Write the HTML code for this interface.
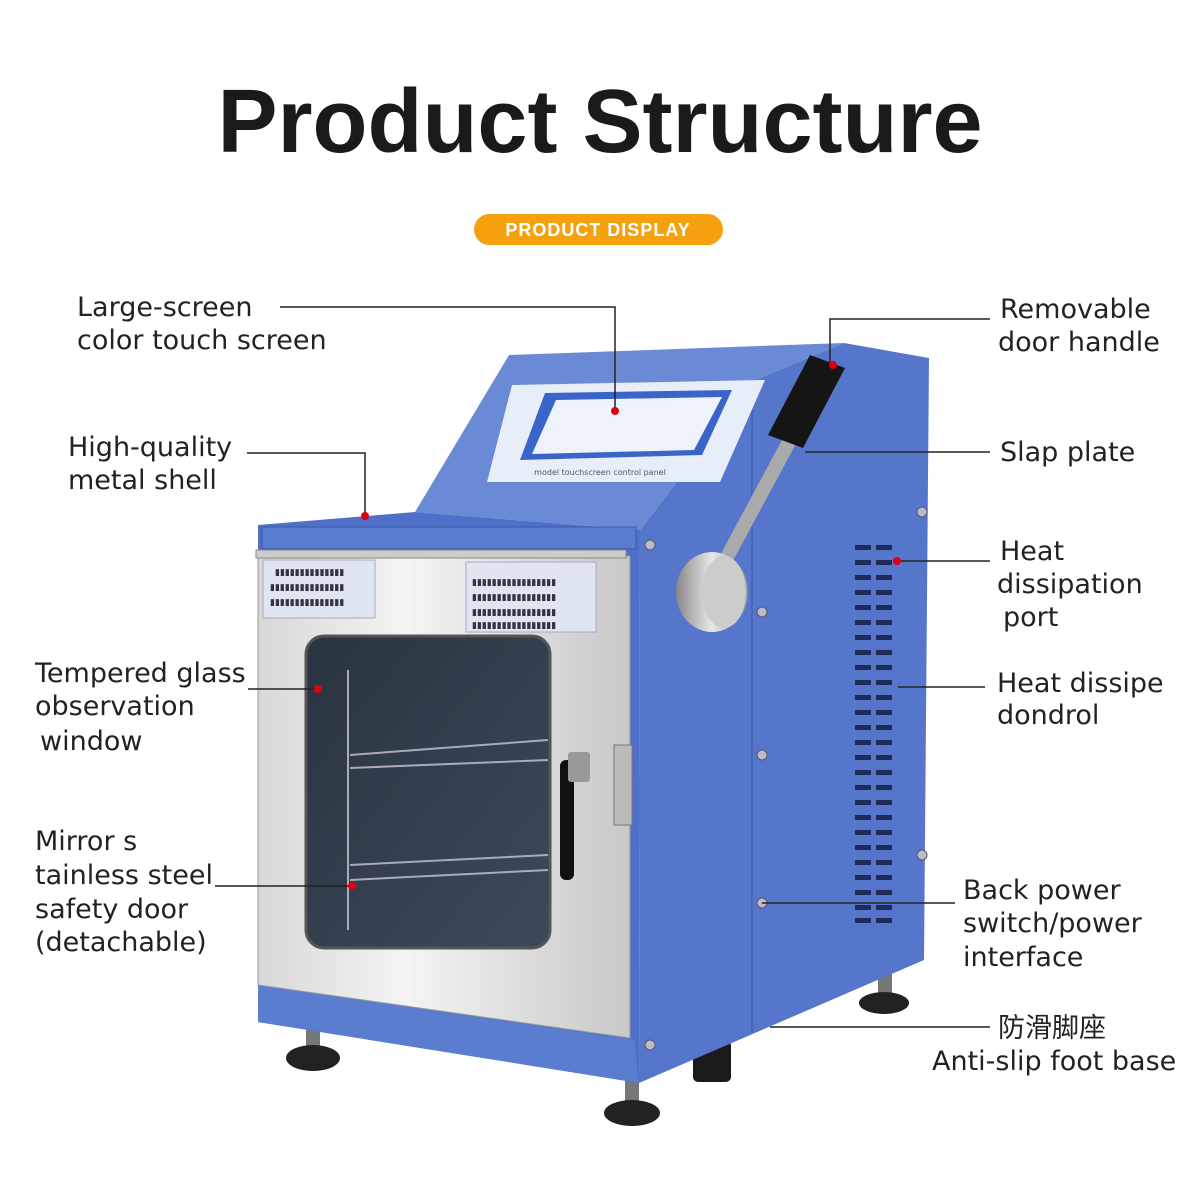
<!DOCTYPE html>
<html><head><meta charset="utf-8"><style>
body{margin:0;width:1200px;height:1200px;background:#fff;overflow:hidden;font-family:"DejaVu Sans","Noto Sans CJK SC",sans-serif;}
</style></head><body>
<svg width="1200" height="1200" viewBox="0 0 1200 1200" xmlns="http://www.w3.org/2000/svg">
<defs>
<linearGradient id="steel" x1="0" x2="1"><stop offset="0" stop-color="#d8d8d8"/><stop offset=".4" stop-color="#f4f4f4"/><stop offset="1" stop-color="#c8c8c8"/></linearGradient>
<linearGradient id="glass" x1="0" y1="0" x2="1" y2="1"><stop offset="0" stop-color="#2a3440"/><stop offset="1" stop-color="#3c4a58"/></linearGradient>
<linearGradient id="knob" x1="0" x2="1"><stop offset="0" stop-color="#888"/><stop offset=".5" stop-color="#e8e8e8"/><stop offset="1" stop-color="#999"/></linearGradient>
</defs>
<text x="600" y="152" text-anchor="middle" font-size="90" font-weight="bold" fill="#1a1a1a" font-family="Liberation Sans">Product Structure</text>
<rect x="474" y="214" width="249" height="31" rx="15.5" fill="#f5a00f"/>
<text x="598" y="236" text-anchor="middle" font-size="18" font-weight="bold" fill="#fff" letter-spacing="1" font-family="Liberation Sans">PRODUCT DISPLAY</text>

<!-- feet -->
<rect x="306" y="1015" width="14" height="40" fill="#777"/>
<ellipse cx="313" cy="1058" rx="27" ry="13" fill="#222"/>
<rect x="625" y="1075" width="14" height="35" fill="#777"/>
<ellipse cx="632" cy="1113" rx="28" ry="13" fill="#222"/>
<rect x="878" y="955" width="14" height="40" fill="#777"/>
<ellipse cx="884" cy="1003" rx="25" ry="11" fill="#222"/>
<rect x="693" y="1040" width="38" height="42" rx="5" fill="#1a1a1a"/>

<!-- side -->
<polygon points="640,530 755,380 844,343 929,358 924,960 639,1083" fill="#5676cb"/>
<line x1="752" y1="385" x2="752" y2="1032" stroke="#4563b5" stroke-width="1.5"/>
<!-- console slant -->
<polygon points="415,512 509,355 844,343 755,380 640,530" fill="#6a8ad6"/>
<!-- front box -->
<polygon points="258,525 415,512 640,530 639,1083 258,1022" fill="#4e70c8"/>
<rect x="262" y="527" width="374" height="22" fill="#5a7ccf" stroke="#3a5aa8"/>
<polygon points="258,985 634,1040 639,1083 258,1022" fill="#5a7dd0"/>
<!-- screen -->
<polygon points="512,385 765,380 720,482 487,482" fill="#e8eef8"/>
<polygon points="545,393 732,390 702,455 520,460" fill="#3a64c8"/>
<polygon points="556,400 722,397 694,450 532,454" fill="#eef2fa"/>
<text x="600" y="475" text-anchor="middle" font-size="8" fill="#557">model touchscreen control panel</text>
<!-- vents -->
<g fill="#1f2c5a">
<rect x="855" y="545" width="16" height="5"/><rect x="876" y="545" width="16" height="5"/>
<rect x="855" y="560" width="16" height="5"/><rect x="876" y="560" width="16" height="5"/>
<rect x="855" y="575" width="16" height="5"/><rect x="876" y="575" width="16" height="5"/>
<rect x="855" y="590" width="16" height="5"/><rect x="876" y="590" width="16" height="5"/>
<rect x="855" y="605" width="16" height="5"/><rect x="876" y="605" width="16" height="5"/>
<rect x="855" y="620" width="16" height="5"/><rect x="876" y="620" width="16" height="5"/>
<rect x="855" y="635" width="16" height="5"/><rect x="876" y="635" width="16" height="5"/>
<rect x="855" y="650" width="16" height="5"/><rect x="876" y="650" width="16" height="5"/>
<rect x="855" y="665" width="16" height="5"/><rect x="876" y="665" width="16" height="5"/>
<rect x="855" y="680" width="16" height="5"/><rect x="876" y="680" width="16" height="5"/>
<rect x="855" y="695" width="16" height="5"/><rect x="876" y="695" width="16" height="5"/>
<rect x="855" y="710" width="16" height="5"/><rect x="876" y="710" width="16" height="5"/>
<rect x="855" y="725" width="16" height="5"/><rect x="876" y="725" width="16" height="5"/>
<rect x="855" y="740" width="16" height="5"/><rect x="876" y="740" width="16" height="5"/>
<rect x="855" y="755" width="16" height="5"/><rect x="876" y="755" width="16" height="5"/>
<rect x="855" y="770" width="16" height="5"/><rect x="876" y="770" width="16" height="5"/>
<rect x="855" y="785" width="16" height="5"/><rect x="876" y="785" width="16" height="5"/>
<rect x="855" y="800" width="16" height="5"/><rect x="876" y="800" width="16" height="5"/>
<rect x="855" y="815" width="16" height="5"/><rect x="876" y="815" width="16" height="5"/>
<rect x="855" y="830" width="16" height="5"/><rect x="876" y="830" width="16" height="5"/>
<rect x="855" y="845" width="16" height="5"/><rect x="876" y="845" width="16" height="5"/>
<rect x="855" y="860" width="16" height="5"/><rect x="876" y="860" width="16" height="5"/>
<rect x="855" y="875" width="16" height="5"/><rect x="876" y="875" width="16" height="5"/>
<rect x="855" y="890" width="16" height="5"/><rect x="876" y="890" width="16" height="5"/>
<rect x="855" y="905" width="16" height="5"/><rect x="876" y="905" width="16" height="5"/>
<rect x="855" y="918" width="16" height="5"/><rect x="876" y="918" width="16" height="5"/>
</g>
<g fill="#bbc" stroke="#556" stroke-width="1">
<circle cx="650" cy="545" r="5"/><circle cx="762" cy="612" r="5"/><circle cx="762" cy="755" r="5"/><circle cx="762" cy="903" r="5"/><circle cx="650" cy="1045" r="5"/><circle cx="922" cy="512" r="5"/><circle cx="922" cy="855" r="5"/>
</g>
<!-- door -->
<polygon points="258,552 630,556 630,1038 258,985" fill="url(#steel)" stroke="#999"/>
<rect x="256" y="550" width="370" height="8" fill="#ccc" stroke="#888"/>
<rect x="614" y="745" width="18" height="80" fill="#bbb" stroke="#777"/>
<rect x="263" y="560" width="112" height="58" fill="#dfe6f2" stroke="#aab"/>
<rect x="466" y="562" width="130" height="70" fill="#dfe6f2" stroke="#aab"/>
<g fill="#334" font-size="9"><text x="275" y="575">▮▮▮▮▮▮▮▮▮▮▮▮▮▮</text><text x="270" y="590">▮▮▮▮▮▮▮▮▮▮▮▮▮▮▮</text><text x="270" y="605">▮▮▮▮▮▮▮▮▮▮▮▮▮▮▮</text>
<text x="472" y="585">▮▮▮▮▮▮▮▮▮▮▮▮▮▮▮▮▮</text><text x="472" y="600">▮▮▮▮▮▮▮▮▮▮▮▮▮▮▮▮▮</text><text x="472" y="615">▮▮▮▮▮▮▮▮▮▮▮▮▮▮▮▮▮</text><text x="472" y="628">▮▮▮▮▮▮▮▮▮▮▮▮▮▮▮▮▮</text></g>
<rect x="306" y="636" width="244" height="312" rx="18" fill="url(#glass)" stroke="#555" stroke-width="3"/>
<g stroke="#aab" stroke-width="2" fill="none"><path d="M348 670 V930 M350 755 L548 740 M350 768 L548 760 M350 865 L548 855 M350 880 L548 870"/></g>
<rect x="560" y="760" width="14" height="120" rx="6" fill="#111"/>
<rect x="568" y="752" width="22" height="30" rx="3" fill="#999"/>
<!-- lever -->
<line x1="712" y1="585" x2="790" y2="440" stroke="#aaa" stroke-width="14"/>
<polygon points="810,355 845,368 803,448 768,435" fill="#151515"/>
<ellipse cx="712" cy="592" rx="36" ry="40" fill="url(#knob)"/>
<ellipse cx="724" cy="592" rx="22" ry="36" fill="#ccc"/>

<g stroke="#222" stroke-width="1.5" fill="none">
<path d="M280 307 H615 V410"/>
<path d="M247 453 H365 V515"/>
<path d="M990 319 H830 V363"/>
<path d="M990 452 H805"/>
<path d="M990 561 H897"/>
<path d="M985 687 H898"/>
<path d="M248 689 H318"/>
<path d="M215 886 H352"/>
<path d="M955 903 H762"/>
<path d="M990 1027 H770"/>
</g>
<g fill="#e00010">
<circle cx="615" cy="411" r="4"/><circle cx="365" cy="516" r="4"/><circle cx="833" cy="365" r="4"/><circle cx="897" cy="561" r="4"/><circle cx="318" cy="689" r="4"/><circle cx="352" cy="886" r="4"/>
</g>
<g font-size="27" fill="#222">
<text x="77" y="316">Large-screen</text><text x="77" y="349">color touch screen</text>
<text x="68" y="456">High-quality</text><text x="68" y="489">metal shell</text>
<text x="35" y="682">Tempered glass</text><text x="35" y="715">observation</text><text x="40" y="750">window</text>
<text x="35" y="850">Mirror s</text><text x="35" y="884">tainless steel</text><text x="35" y="918">safety door</text><text x="35" y="951">(detachable)</text>
<text x="1000" y="318">Removable</text><text x="998" y="351">door handle</text>
<text x="1000" y="461">Slap plate</text>
<text x="1000" y="560">Heat</text><text x="997" y="593">dissipation</text><text x="1003" y="626">port</text>
<text x="997" y="692">Heat dissipe</text><text x="997" y="724">dondrol</text>
<text x="963" y="899">Back power</text><text x="963" y="932">switch/power</text><text x="963" y="966">interface</text>
<text x="998" y="1037">防滑脚座</text><text x="932" y="1070">Anti-slip foot base</text>
</g>
</svg>
</body></html>
